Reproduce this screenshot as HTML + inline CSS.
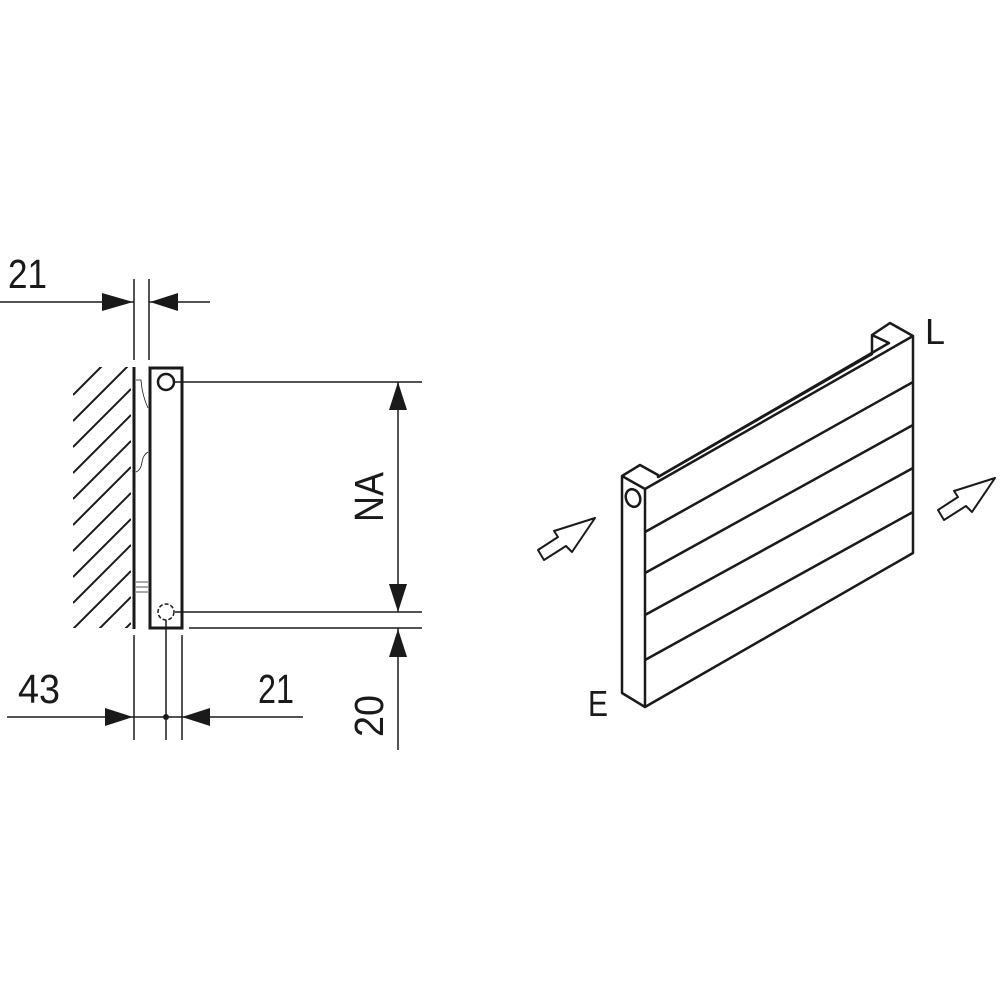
<!DOCTYPE html>
<html><head><style>
html,body{margin:0;padding:0;background:#fff;}
svg{display:block;}
text{font-family:"Liberation Sans Narrow","Liberation Sans",sans-serif;fill:#1a1a1a;}
</style></head><body>
<svg width="1000" height="1000" viewBox="0 0 1000 1000" xmlns="http://www.w3.org/2000/svg">
<defs>
<clipPath id="hc"><rect x="73" y="367" width="58" height="261"/></clipPath>
</defs>
<g stroke="#1a1a1a" fill="none" stroke-linecap="butt">
<g clip-path="url(#hc)" stroke-width="2">
<path d="M73,395 L131,337 M73,421 L131,363 M73,447 L131,389 M73,473 L131,415 M73,499 L131,441 M73,525 L131,467 M73,551 L131,493 M73,577 L131,519 M73,603 L131,545 M73,629 L131,571 M73,655 L131,597 M73,681 L131,623"/>
</g>
<line x1="134" y1="367" x2="134" y2="629" stroke-width="3"/>
<path d="M136,380 L141,380 Q142,395 148,408 M136,472 Q141,470 142,462 Q143,455 148,452" stroke-width="0.8"/>
<path d="M136,582 L148,582 M136,587 L148,587 M136,592 L148,592" stroke-width="0.8"/>
<rect x="150" y="368" width="32" height="260" stroke-width="3"/>
<circle cx="166" cy="382" r="8" stroke-width="2.5"/>
<circle cx="166" cy="612" r="8" stroke-width="1.5" stroke-dasharray="4,2"/>
<g stroke-width="1.5">
<line x1="134" y1="279" x2="134" y2="360"/>
<line x1="149" y1="279" x2="149" y2="360"/>
<line x1="134" y1="635" x2="134" y2="740"/>
<line x1="166" y1="620" x2="166" y2="740"/>
<line x1="182" y1="635" x2="182" y2="740"/>
<line x1="175" y1="382" x2="422" y2="382"/>
<line x1="175" y1="612" x2="422" y2="612"/>
<line x1="189" y1="628" x2="422" y2="628"/>
<line x1="0" y1="302" x2="134" y2="302"/>
<line x1="149" y1="302" x2="210" y2="302"/>
<line x1="7" y1="717" x2="303" y2="717"/>
<line x1="398" y1="382" x2="398" y2="612"/>
<line x1="398" y1="628" x2="398" y2="750"/>
</g>
</g>
<g fill="#1a1a1a">
<polygon points="102,293 133,302 102,311"/>
<polygon points="178,293 150,302 178,311"/>
<polygon points="105,708 133,717 105,726"/>
<polygon points="210,708 182,717 210,726"/>
<circle cx="166" cy="717" r="3"/>
<polygon points="389,410 398,382 407,410"/>
<polygon points="389,584 398,612 407,584"/>
<polygon points="389,657 398,629 407,657"/>
</g>
<text x="8" y="288" font-size="41" textLength="39" lengthAdjust="spacingAndGlyphs">21</text>
<text x="18" y="703" font-size="41" textLength="42" lengthAdjust="spacingAndGlyphs">43</text>
<text x="258" y="703" font-size="41" textLength="36" lengthAdjust="spacingAndGlyphs">21</text>
<text transform="translate(383,522) rotate(-90)" font-size="41" textLength="50" lengthAdjust="spacingAndGlyphs">NA</text>
<text transform="translate(383,737) rotate(-90)" font-size="41" textLength="42" lengthAdjust="spacingAndGlyphs">20</text>

<g stroke="#1a1a1a" fill="none" stroke-width="2.5" stroke-linejoin="round">
<path d="M622,693 L622,476 L640,465 L658,475 L658,477 L872,354 L872,335 L890,323 L913,336 L913,553 L645,707 Z"/>
<path d="M622,476 L645,489 L645,707"/>
<path d="M645,489 L913,336"/>
<path d="M658,477 L889,343 L872,335"/>
<path d="M645,532 L913,382 M645,573 L913,425 M645,615 L913,468 M645,660 L913,512"/>
<ellipse cx="633" cy="498" rx="7" ry="9" transform="rotate(-20 633 498)"/>
<path d="M538,550 L558,537 L554,531 L595,518 L572,552 L566,546 L544,560 Z" stroke-width="2"/>
<path d="M938,510 L958,497 L954,491 L995,478 L972,512 L966,506 L944,520 Z" stroke-width="2"/>
</g>
<text x="925" y="344" font-size="36" textLength="20" lengthAdjust="spacingAndGlyphs">L</text>
<text x="588" y="716" font-size="36" textLength="20" lengthAdjust="spacingAndGlyphs">E</text>
</svg>
</body></html>
